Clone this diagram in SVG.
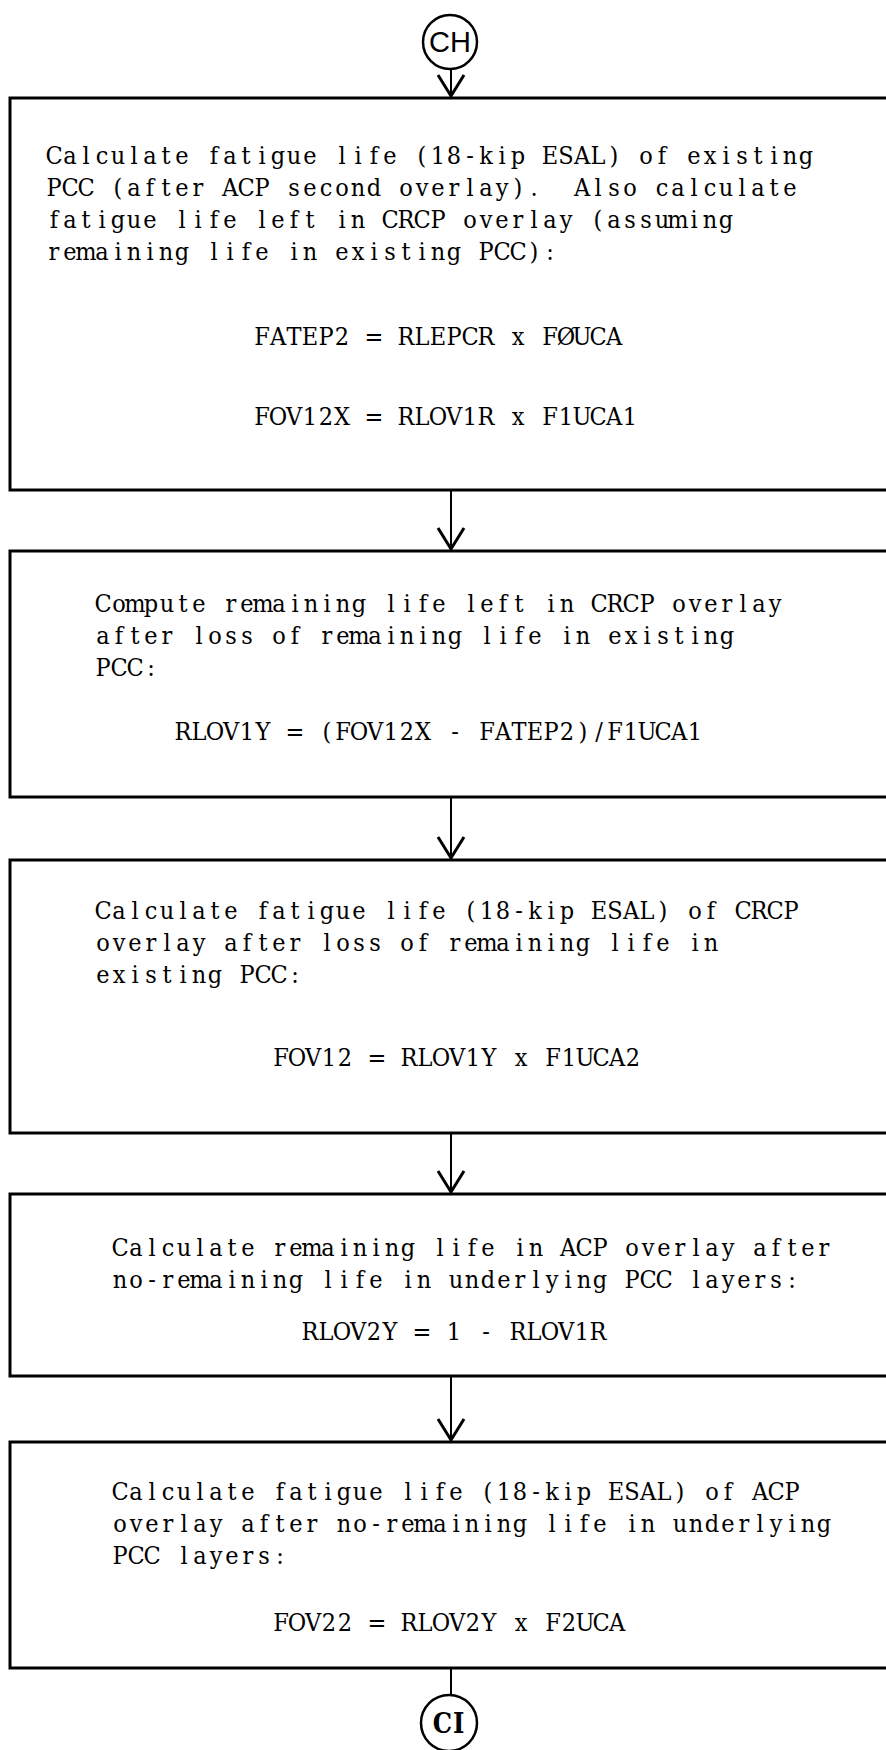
<svg xmlns="http://www.w3.org/2000/svg" width="886" height="1750" viewBox="0 0 886 1750">
  <style>
    .box { fill: #fff; stroke: #000; stroke-width: 3; }
    .term { fill: #fff; stroke: #000; stroke-width: 2.5; }
    .wire { fill: none; stroke: #000; stroke-width: 2; }
    /* typewriter-style body text: one glyph per 16px cell, centred in its cell */
    .t { font-family: "DejaVu Serif Condensed", "DejaVu Serif", "Liberation Serif", serif; font-stretch: condensed; font-size: 25px; fill: #000; text-anchor: middle; white-space: pre; }
    .lab { font-family: "Liberation Sans", Arial, sans-serif; font-size: 29px; fill: #000; text-anchor: middle; }
    .labs { font-family: "DejaVu Serif Condensed", "DejaVu Serif", serif; font-stretch: condensed; font-size: 27px; font-weight: bold; fill: #000; text-anchor: middle; letter-spacing: 1px; }
  </style>
  <defs>
    <marker id="vee" viewBox="-24 -16 28 32" markerWidth="28" markerHeight="32" refX="0" refY="0" orient="auto" markerUnits="userSpaceOnUse">
      <path d="M-21,-13 L0,0 L-21,13" fill="none" stroke="#000" stroke-width="3" stroke-linejoin="miter"/>
    </marker>
  </defs>
  <rect width="886" height="1750" fill="#fff"/>

  <!-- flow connectors -->
  <g id="connectors">
    <line class="wire" x1="451" y1="69" x2="451" y2="96" marker-end="url(#vee)"/>
    <line class="wire" x1="451" y1="491" x2="451" y2="549" marker-end="url(#vee)"/>
    <line class="wire" x1="451" y1="798" x2="451" y2="858" marker-end="url(#vee)"/>
    <line class="wire" x1="451" y1="1134" x2="451" y2="1192" marker-end="url(#vee)"/>
    <line class="wire" x1="451" y1="1377" x2="451" y2="1440" marker-end="url(#vee)"/>
    <line class="wire" x1="451" y1="1668" x2="451" y2="1695"/>
  </g>

  <!-- entry connector -->
  <g id="node-CH">
    <circle class="term" cx="450" cy="42" r="27"/>
    <text class="lab" x="450" y="52">CH</text>
  </g>

  <g id="node-fatigue-existing">
    <rect class="box" x="10" y="98" width="878" height="392"/>
    <text class="t" xml:space="preserve" y="164" x="54 70 86 102 118 134 150 166 182 198 214 230 246 262 278 294 310 326 342 358 374 390 406 422 438 454 470 486 502 518 534 550 566 582 598 614 630 646 662 678 694 710 726 742 758 774 790 806">Calculate fatigue life (18-kip ESAL) of existing</text>
    <text class="t" xml:space="preserve" y="196" x="54 70 86 102 118 134 150 166 182 198 214 230 246 262 278 294 310 326 342 358 374 390 406 422 438 454 470 486 502 518 534 550 566 582 598 614 630 646 662 678 694 710 726 742 758 774 790 806">PCC (after ACP second overlay).  Also calculate</text>
    <text class="t" xml:space="preserve" y="228" x="54 70 86 102 118 134 150 166 182 198 214 230 246 262 278 294 310 326 342 358 374 390 406 422 438 454 470 486 502 518 534 550 566 582 598 614 630 646 662 678 694 710 726 742 758 774 790 806">fatigue life left in CRCP overlay (assuming</text>
    <text class="t" xml:space="preserve" y="260" x="54 70 86 102 118 134 150 166 182 198 214 230 246 262 278 294 310 326 342 358 374 390 406 422 438 454 470 486 502 518 534 550 566 582 598 614 630 646 662 678 694 710 726 742 758 774 790 806">remaining life in existing PCC):</text>
    <text class="t" xml:space="preserve" y="345" x="262 278 294 310 326 342 358 374 390 406 422 438 454 470 486 502 518 534 550 566 582 598 614 630">FATEP2 = RLEPCR x FØUCA</text>
    <text class="t" xml:space="preserve" y="425" x="262 278 294 310 326 342 358 374 390 406 422 438 454 470 486 502 518 534 550 566 582 598 614 630">FOV12X = RLOV1R x F1UCA1</text>
  </g>

  <g id="node-remaining-crcp">
    <rect class="box" x="10" y="551" width="878" height="246"/>
    <text class="t" xml:space="preserve" y="612" x="103 119 135 151 167 183 199 215 231 247 263 279 295 311 327 343 359 375 391 407 423 439 455 471 487 503 519 535 551 567 583 599 615 631 647 663 679 695 711 727 743 759 775 791 807">Compute remaining life left in CRCP overlay</text>
    <text class="t" xml:space="preserve" y="644" x="103 119 135 151 167 183 199 215 231 247 263 279 295 311 327 343 359 375 391 407 423 439 455 471 487 503 519 535 551 567 583 599 615 631 647 663 679 695 711 727 743 759 775 791 807">after loss of remaining life in existing</text>
    <text class="t" xml:space="preserve" y="676" x="103 119 135 151">PCC:</text>
    <text class="t" xml:space="preserve" y="740" x="183 199 215 231 247 263 279 295 311 327 343 359 375 391 407 423 439 455 471 487 503 519 535 551 567 583 599 615 631 647 663 679 695">RLOV1Y = (FOV12X - FATEP2)/F1UCA1</text>
  </g>

  <g id="node-fatigue-crcp">
    <rect class="box" x="10" y="860" width="878" height="273"/>
    <text class="t" xml:space="preserve" y="919" x="103 119 135 151 167 183 199 215 231 247 263 279 295 311 327 343 359 375 391 407 423 439 455 471 487 503 519 535 551 567 583 599 615 631 647 663 679 695 711 727 743 759 775 791 807">Calculate fatigue life (18-kip ESAL) of CRCP</text>
    <text class="t" xml:space="preserve" y="951" x="103 119 135 151 167 183 199 215 231 247 263 279 295 311 327 343 359 375 391 407 423 439 455 471 487 503 519 535 551 567 583 599 615 631 647 663 679 695 711 727 743 759 775 791 807">overlay after loss of remaining life in</text>
    <text class="t" xml:space="preserve" y="983" x="103 119 135 151 167 183 199 215 231 247 263 279 295">existing PCC:</text>
    <text class="t" xml:space="preserve" y="1066" x="281 297 313 329 345 361 377 393 409 425 441 457 473 489 505 521 537 553 569 585 601 617 633">FOV12 = RLOV1Y x F1UCA2</text>
  </g>

  <g id="node-remaining-acp">
    <rect class="box" x="10" y="1194" width="878" height="182"/>
    <text class="t" xml:space="preserve" y="1256" x="120 136 152 168 184 200 216 232 248 264 280 296 312 328 344 360 376 392 408 424 440 456 472 488 504 520 536 552 568 584 600 616 632 648 664 680 696 712 728 744 760 776 792 808 824 840">Calculate remaining life in ACP overlay after</text>
    <text class="t" xml:space="preserve" y="1288" x="120 136 152 168 184 200 216 232 248 264 280 296 312 328 344 360 376 392 408 424 440 456 472 488 504 520 536 552 568 584 600 616 632 648 664 680 696 712 728 744 760 776 792 808 824 840">no-remaining life in underlying PCC layers:</text>
    <text class="t" xml:space="preserve" y="1340" x="310 326 342 358 374 390 406 422 438 454 470 486 502 518 534 550 566 582 598">RLOV2Y = 1 - RLOV1R</text>
  </g>

  <g id="node-fatigue-acp">
    <rect class="box" x="10" y="1442" width="878" height="226"/>
    <text class="t" xml:space="preserve" y="1500" x="120 136 152 168 184 200 216 232 248 264 280 296 312 328 344 360 376 392 408 424 440 456 472 488 504 520 536 552 568 584 600 616 632 648 664 680 696 712 728 744 760 776 792 808 824 840">Calculate fatigue life (18-kip ESAL) of ACP</text>
    <text class="t" xml:space="preserve" y="1532" x="120 136 152 168 184 200 216 232 248 264 280 296 312 328 344 360 376 392 408 424 440 456 472 488 504 520 536 552 568 584 600 616 632 648 664 680 696 712 728 744 760 776 792 808 824 840">overlay after no-remaining life in underlying</text>
    <text class="t" xml:space="preserve" y="1564" x="120 136 152 168 184 200 216 232 248 264 280">PCC layers:</text>
    <text class="t" xml:space="preserve" y="1631" x="281 297 313 329 345 361 377 393 409 425 441 457 473 489 505 521 537 553 569 585 601 617">FOV22 = RLOV2Y x F2UCA</text>
  </g>

  <!-- exit connector -->
  <g id="node-CI">
    <circle class="term" cx="449" cy="1723" r="28"/>
    <text class="labs" x="449" y="1733">CI</text>
  </g>
</svg>
